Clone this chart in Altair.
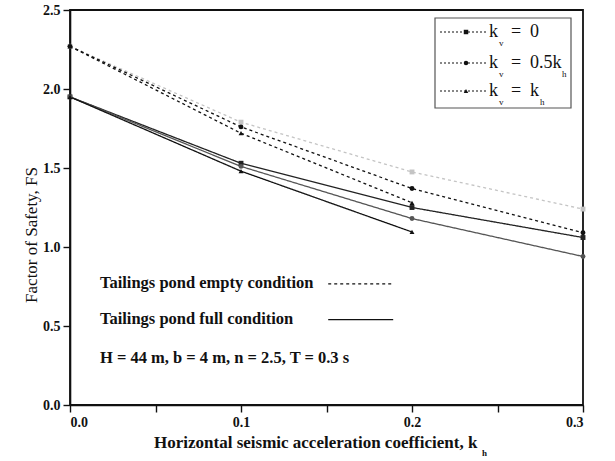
import altair as alt
import pandas as pd

# Horizontal seismic coefficient values
kh = [0.0, 0.1, 0.2, 0.3]

# Factor of safety, tailings pond empty condition
fs_empty_kv0 = [2.27, 1.79, 1.475, 1.24]
fs_empty_kv05 = [2.27, 1.76, 1.37, 1.09]
fs_empty_kvkh = [2.27, 1.72, 1.28]

# Factor of safety, tailings pond full condition
fs_full_kv0 = [1.95, 1.53, 1.25, 1.06]
fs_full_kv05 = [1.95, 1.51, 1.18, 0.94]
fs_full_kvkh = [1.95, 1.48, 1.095]

series_defs = [
    ("empty_kv0", "empty", "kv0", fs_empty_kv0),
    ("empty_kv05", "empty", "kv05", fs_empty_kv05),
    ("empty_kvkh", "empty", "kvkh", fs_empty_kvkh),
    ("full_kv0", "full", "kv0", fs_full_kv0),
    ("full_kv05", "full", "kv05", fs_full_kv05),
    ("full_kvkh", "full", "kvkh", fs_full_kvkh),
]

rows = []
for name, cond, kv, vals in series_defs:
    for x, v in zip(kh, vals):
        rows.append({"kh": x, "fs": v, "series": name, "cond": cond, "kv": kv})
df = pd.DataFrame(rows)

series_names = [s[0] for s in series_defs]
series_colors = ["#c4c4c4", "#111111", "#111111", "#222222", "#555555", "#111111"]
marker_colors = ["#9a9a9a", "#111111", "#111111", "#222222", "#222222", "#111111"]

W, H = 513, 395
serif = "Liberation Serif"

x_enc = alt.X(
    "kh:Q",
    scale=alt.Scale(domain=[0, 0.3], nice=False),
    axis=alt.Axis(
        values=[0, 0.05, 0.1, 0.15, 0.2, 0.25, 0.3],
        labelExpr="abs(datum.value*10 - round(datum.value*10)) < 1e-6 ? format(datum.value, '.1f') : ''",
        title=None,
        grid=False,
    ),
)
y_enc = alt.Y(
    "fs:Q",
    scale=alt.Scale(domain=[0, 2.5], nice=False),
    axis=alt.Axis(
        values=[0, 0.25, 0.5, 0.75, 1.0, 1.25, 1.5, 1.75, 2.0, 2.25, 2.5],
        labelExpr="datum.value % 0.5 == 0 ? format(datum.value, '.1f') : ''",
        title=None,
        grid=False,
    ),
)

lines = alt.Chart(df).mark_line(strokeWidth=1.3).encode(
    x=x_enc,
    y=y_enc,
    color=alt.Color("series:N", scale=alt.Scale(domain=series_names, range=series_colors), legend=None),
    strokeDash=alt.StrokeDash(
        "cond:N",
        scale=alt.Scale(domain=["empty", "full"], range=[[3, 3], [1, 0]]),
        legend=None,
    ),
    detail="series:N",
)

points = alt.Chart(df).mark_point(filled=True, size=24, opacity=1).encode(
    x="kh:Q",
    y="fs:Q",
    shape=alt.Shape(
        "kv:N",
        scale=alt.Scale(domain=["kv0", "kv05", "kvkh"], range=["square", "circle", "triangle-up"]),
        legend=None,
    ),
    color=alt.Color("series:N", scale=alt.Scale(domain=series_names, range=marker_colors), legend=None),
)

# Annotation block inside the plot
note_text = ["Tailings pond empty condition", "Tailings pond full condition", "H = 44 m, b = 4 m, n = 2.5, T = 0.3 s"]
note_x = [0.0175, 0.0175, 0.0175]
note_y = [0.77, 0.545, 0.30]
notes = alt.Chart(pd.DataFrame({"t": note_text, "x": note_x, "y": note_y})).mark_text(
    align="left", baseline="middle", font=serif, fontSize=16.5, fontWeight="bold", color="#111"
).encode(x="x:Q", y="y:Q", text="t:N")

sample_df = pd.DataFrame({
    "x": [0.151, 0.189, 0.151, 0.189],
    "y": [0.766, 0.766, 0.54, 0.54],
    "cond": ["empty", "empty", "full", "full"],
})
samples = alt.Chart(sample_df).mark_line(color="#111", strokeWidth=1.2).encode(
    x="x:Q",
    y="y:Q",
    detail="cond:N",
    strokeDash=alt.StrokeDash(
        "cond:N",
        scale=alt.Scale(domain=["empty", "full"], range=[[4, 3], [1, 0]]),
        legend=None,
    ),
)

# Legend box for the vertical coefficient cases
leg_box = alt.Chart(pd.DataFrame({"a": [0]})).mark_rect(
    fill="white", stroke="#555", strokeWidth=1.2
).encode(x=alt.value(365), x2=alt.value(501), y=alt.value(8), y2=alt.value(98))

leg_rows = [22, 53, 81]
leg_shapes = ["square", "circle", "triangle-up"]
leg_layers = []
for ry, shp in zip(leg_rows, leg_shapes):
    leg_layers.append(
        alt.Chart(pd.DataFrame({"a": [0]})).mark_rule(color="#111", strokeWidth=1.2, strokeDash=[2, 2]).encode(
            x=alt.value(370), x2=alt.value(417), y=alt.value(ry)
        )
    )
    leg_layers.append(
        alt.Chart(pd.DataFrame({"a": [0]})).mark_point(filled=True, size=20, color="#111", opacity=1, shape=shp).encode(
            x=alt.value(396), y=alt.value(ry)
        )
    )

def txt(s, x, y, size=18, weight="normal"):
    return alt.Chart(pd.DataFrame({"a": [0]})).mark_text(
        text=s, align="left", baseline="middle", font=serif, fontSize=size,
        fontWeight=weight, color="#111"
    ).encode(x=alt.value(x), y=alt.value(y))

legend_main = ["0", "0.5k", "k"]
legend_sub_x = [None, 492, 470]
for ry, main, sx in zip(leg_rows, legend_main, legend_sub_x):
    leg_layers.append(txt("k", 419, ry))
    leg_layers.append(txt("v", 429, ry + 11, size=9))
    leg_layers.append(txt("=", 441, ry))
    leg_layers.append(txt(main, 460, ry))
    if sx is not None:
        leg_layers.append(txt("h", sx, ry + 11, size=9))

# Axis titles
y_title = alt.Chart(pd.DataFrame({"a": [0]})).mark_text(
    text="Factor of Safety, FS", angle=270, align="center", baseline="middle",
    font=serif, fontSize=17, color="#111"
).encode(x=alt.value(-38), y=alt.value(225))
x_title = txt("Horizontal seismic acceleration coefficient, k", 84, 433, size=17, weight="bold")
x_sub = txt("h", 412, 443, size=9, weight="bold")

chart = alt.layer(
    lines, points, notes, samples, leg_box, *leg_layers, y_title, x_title, x_sub
).properties(
    width=W, height=H,
    autosize=alt.AutoSizeParams(type="none"),
    padding={"left": 70, "top": 10, "right": 32, "bottom": 56},
    background="white",
).configure_view(
    stroke="#111", strokeWidth=1.8
).configure_axis(
    domainColor="#111", domainWidth=1.6, tickColor="#111", tickWidth=1.4, tickSize=7,
    labelFont=serif, labelFontSize=14, labelFontWeight="bold", labelColor="#111",
    labelPadding=3,
)

chart.save("out.html", embed_options={"renderer": "svg", "actions": False})
